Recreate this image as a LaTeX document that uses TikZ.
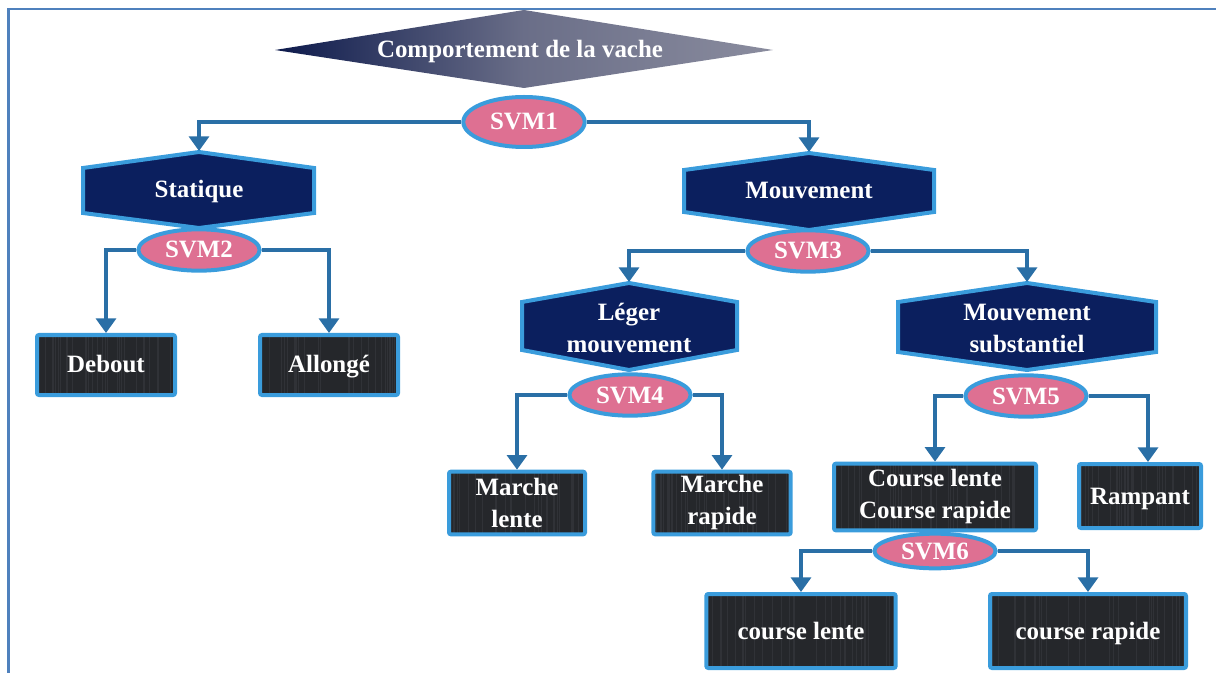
\documentclass[tikz,border=0pt]{standalone}
\usepackage{fontspec}
\setmainfont{Liberation Serif}
\usetikzlibrary{shapes.geometric,arrows.meta,calc}

\definecolor{frameblue}{HTML}{4F81BD}
\definecolor{linkblue}{HTML}{2A6FA6}
\definecolor{edgeblue}{HTML}{3A9CDC}
\definecolor{hexnavy}{HTML}{0B1F5E}
\definecolor{svmpink}{HTML}{DE7092}
\definecolor{boxdark}{HTML}{25272B}
\definecolor{grainc}{HTML}{303237}
\definecolor{rootleft}{HTML}{0D1A4C}
\definecolor{rootmid}{HTML}{6A6E88}
\definecolor{rootright}{HTML}{8A8C9E}

\tikzset{
  lbl/.style={font=\fontsize{18.7}{24}\selectfont\bfseries, text=white, align=center, inner sep=0pt},
  oneline/.style={text height=13pt, text depth=1pt},
  hexa/.style={fill=hexnavy, draw=edgeblue, line width=3pt, line join=miter},
  svm/.style={ellipse, fill=svmpink, draw=edgeblue, line width=3pt, lbl, oneline,
              minimum width=91pt, minimum height=31pt},
  leaf/.style={rectangle, fill=boxdark, draw=edgeblue, line width=3pt,
               rounded corners=1.5pt, lbl,
               path picture={
                 \foreach \k in {1,...,30}{
                   \pgfmathsetmacro\gx{rnd}
                   \draw[grainc, line width=0.5pt]
                     ($(path picture bounding box.south west)!\gx!(path picture bounding box.south east)$)
                     -- ++(0,-200);
                 }
               }},
  link/.style={draw=linkblue, line width=2.6pt,
               -{Triangle[width=15pt,length=11pt]}},
}

\begin{document}
\begin{tikzpicture}[x=0.75pt, y=-0.75pt]
\pgfmathsetseed{7}
\useasboundingbox (0,0) rectangle (1216,673);

% page frame
\draw[frameblue, line width=1.6pt] (1216,9) -- (8.5,9) -- (8.5,673);

% root diamond
\shade[left color=rootleft, right color=rootright, middle color=rootmid]
  (275,50) -- (524,10) -- (773,50) -- (524,88) -- cycle;
\node[lbl, oneline] (root) at (520,50) {Comportement de la vache};

% category hexagons
\path[hexa] (83,168) -- (199,152) -- (314,168) -- (314,213) -- (199,228) -- (83,213) -- cycle;
\node[lbl, oneline] (stat) at (199,190) {Statique};
\coordinate (statTop) at (199,151);

\path[hexa] (684,170) -- (809,153) -- (934,170) -- (934,212) -- (809,230) -- (684,212) -- cycle;
\node[lbl, oneline] (mouv) at (809,191) {Mouvement};
\coordinate (mouvTop) at (809,152);

\path[hexa] (522,302) -- (629,283) -- (737,302) -- (737,350) -- (629,370) -- (522,350) -- cycle;
\node[lbl] (leger) at (629,328) {Léger\\mouvement};
\coordinate (legerTop) at (629,282);

\path[hexa] (898,302) -- (1027,283) -- (1156,302) -- (1156,352) -- (1027,370) -- (898,352) -- cycle;
\node[lbl] (subst) at (1027,328) {Mouvement\\substantiel};
\coordinate (substTop) at (1027,282);

% leaf classes
\node[leaf, oneline, minimum width=103.5pt, minimum height=45pt] (debout) at (106,365) {Debout};
\node[leaf, oneline, minimum width=103.5pt, minimum height=45pt] (allonge) at (329,365) {Allongé};
\node[leaf, minimum width=102pt, minimum height=47pt] (mlente) at (517,503) {Marche\\lente};
\node[leaf, minimum width=103pt, minimum height=47pt] (mrapide) at (722,503) {Marche\\rapide};
\node[leaf, minimum width=151.5pt, minimum height=50pt] (course) at (935,497) {Course lente\\Course rapide};
\node[leaf, oneline, minimum width=91.5pt, minimum height=48pt] (rampant) at (1140,496) {Rampant};
\node[leaf, oneline, minimum width=142pt, minimum height=55.5pt] (clente) at (801,631) {course lente};
\node[leaf, oneline, minimum width=147pt, minimum height=55.5pt] (crapide) at (1088,631) {course rapide};

% classifiers
\node[svm, minimum height=37.5pt] (svm1) at (524,122) {SVM1};
\node[svm] (svm2) at (199,250) {SVM2};
\node[svm] (svm3) at (808,251) {SVM3};
\node[svm] (svm4) at (630,395) {SVM4};
\node[svm] (svm5) at (1026,396) {SVM5};
\node[svm, minimum height=26pt] (svm6) at (935,551) {SVM6};

% decision links
\draw[link] (svm1.west) -| (statTop);
\draw[link] (svm1.east) -| (mouvTop);
\draw[link] (svm2.west) -| (debout.north);
\draw[link] (svm2.east) -| (allonge.north);
\draw[link] (svm3.west) -| (legerTop);
\draw[link] (svm3.east) -| (substTop);
\draw[link] (svm4.west) -| (mlente.north);
\draw[link] (svm4.east) -| (mrapide.north);
\draw[link] (svm5.west) -| (course.north);
\draw[link] (svm5.east) -| ([xshift=6pt]rampant.north);
\draw[link] (svm6.west) -| (clente.north);
\draw[link] (svm6.east) -| (crapide.north);
\end{tikzpicture}
\end{document}
